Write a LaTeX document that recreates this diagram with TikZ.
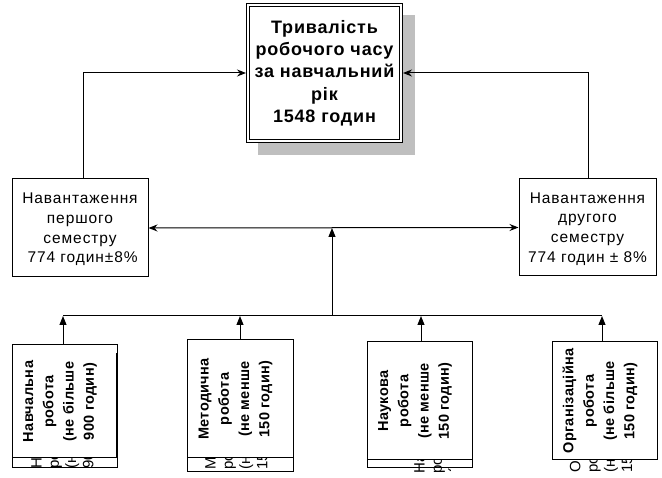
\documentclass[tikz,border=0pt]{standalone}
\usepackage{fontspec}
\setmainfont{Liberation Sans}
\newfontfamily\spaced[LetterSpace=6]{Liberation Sans}
\newfontfamily\spacedbold[LetterSpace=4.5]{Liberation Sans Bold}
\newfontfamily\spacedvbold[LetterSpace=2.5]{Liberation Sans Bold}
\usetikzlibrary{arrows.meta}
\tikzset{
  conn/.style={line width=1pt},
  up/.style={conn,-{Triangle[length=9pt,width=7pt]}},
  into/.style={conn,-{Stealth[length=9pt,width=7pt,inset=3pt]}},
  twoway/.style={conn,{Stealth[length=9pt,width=7pt,inset=3pt]}-{Stealth[length=9pt,width=7pt,inset=3pt]}},
  titlebox/.style={draw, line width=1pt, double, double distance=2pt, fill=white, outer sep=2pt,
    minimum width=153pt, minimum height=136pt, inner sep=0pt, align=center,
    font=\spacedbold\fontsize{18}{22.3}\selectfont},
  sembox/.style={draw, line width=1pt, fill=white, inner sep=0pt, align=center,
    text depth=0pt, font=\spaced\fontsize{15.5}{19.7}\selectfont},
  vbox/.style={draw, line width=1pt, fill=white, rotate=90, inner sep=0pt, align=center,
    text depth=12pt, font=\spacedvbold\fontsize{14.5}{20.3}\selectfont},
  ghost/.style={rotate=90, anchor=north west, inner sep=0pt, align=left,
    font=\fontsize{15}{17.3}\selectfont},
  strip/.style={draw, line width=1pt},
}
\begin{document}
\begin{tikzpicture}[x=1pt,y=-1pt]
\useasboundingbox (0,0) rectangle (662,478);
% shadow of the title box
\fill[black!25] (258,15) rectangle (415,155);
\node[titlebox] (top) at (324.5,73) {Тривалість\\робочого часу\\за навчальний\\рік\\1548 годин};
% semester boxes
\node[sembox, minimum width=136pt, minimum height=98pt] (L) at (80,228)
  {Навантаження\\першого\\семестру\\\ 774 годин±8\%};
\node[sembox, minimum width=137pt, minimum height=97pt] (R) at (587.5,227.5)
  {Навантаження\\другого\\семестру\\774 годин ± 8\%};
% ghost text fragments under the boxes
\begin{scope}
  \clip (12,440) rectangle (117,478);
  \node[ghost] (g1) at (31,469) {Навчальна\\робота\\(не більше\\900 годин)};
\end{scope}
\begin{scope}
  \clip (187,440) rectangle (293,478);
  \node[ghost] (g2) at (205,470) {Методична\\робота\\(не менше\\150 годин)};
\end{scope}
\begin{scope}
  \clip (367,440) rectangle (450,478);
  \node[ghost] (g3) at (414,474) {Наукова\\робота\\(не менше\\150 годин)};
\end{scope}
\begin{scope}
  \clip (552,440) rectangle (657,478);
  \node[ghost] (g4) at (569,473) {Організаційна\\робота\\(не більше\\150 годин)};
\end{scope}
% bottom boxes
\draw[strip] (12,458) rectangle (117,468);
\draw[strip] (187,458) rectangle (293,472);
\draw[strip] (367,460) rectangle (472,468);
\node[vbox, minimum width=113pt, minimum height=105pt] (b1) at (64.5,401.5)
  {Навчальна\\робота\\(не більше\\900 годин)};
\node[vbox, minimum width=118pt, minimum height=106pt] (b2) at (240,399)
  {Методична\\робота\\(не менше\\150 годин)};
\node[vbox, minimum width=118pt, minimum height=105pt] (b3) at (419.5,401)
  {Наукова\\робота\\(не менше\\150 годин)};
\node[vbox, minimum width=118pt, minimum height=105pt] (b4) at (604.5,401)
  {Організаційна\\робота\\(не більше\\150 годин)};
\draw[line width=2pt] (117,353) -- (117,458);
% connectors to the title box
\coordinate (lc) at (83,179);
\coordinate (rc) at (588,179);
\draw[into] (lc) -- (lc |- top.west) -- (top.west);
\draw[into] (rc) -- (rc |- top.east) -- (top.east);
% connectors between semesters
\draw[twoway] (L.east) -- (R.west);
\coordinate (hub) at (332,316);
\draw[up] (hub) -- (hub |- L.east);
% bus
\coordinate (bus1) at (63,316);
\coordinate (bus2) at (240,316);
\coordinate (bus3) at (421,316);
\coordinate (bus4) at (602,316);
\draw[conn] (bus1) -- (bus4);
\draw[up] (bus1 |- b1.east) -- (bus1);
\draw[up] (bus2 |- b2.east) -- (bus2);
\draw[up] (bus3 |- b3.east) -- (bus3);
\draw[up] (bus4 |- b4.east) -- (bus4);
\end{tikzpicture}
\end{document}
